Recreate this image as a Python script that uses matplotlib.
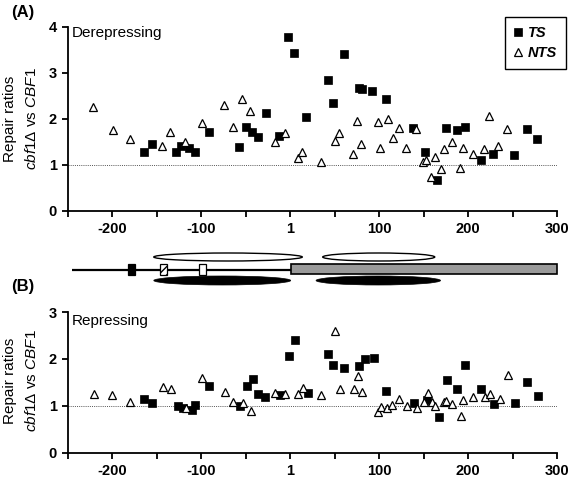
import matplotlib
matplotlib.use("Agg")
import matplotlib.pyplot as plt
from matplotlib.patches import Ellipse, Rectangle

plt.rcParams['font.family'] = ['Liberation Sans', 'DejaVu Sans']
plt.rcParams['mathtext.fontset'] = 'custom'
plt.rcParams['mathtext.it'] = 'Liberation Sans:italic'
plt.rcParams['mathtext.rm'] = 'Liberation Sans'

# Panel A (derepressing) - TS
ts_a_x = [-165, -156, -129, -123, -114, -107, -91, -58, -50, -43, -36, -27, -13, -3, 4, 18,
          42, 48, 60, 77, 81, 92, 108, 138, 152, 165, 175, 188, 197, 214, 228, 252, 266, 278]
ts_a_y = [1.28, 1.46, 1.28, 1.42, 1.36, 1.28, 1.72, 1.40, 1.82, 1.72, 1.61, 2.13, 1.63, 3.78,
          3.44, 2.04, 2.84, 2.35, 3.41, 2.68, 2.65, 2.60, 2.44, 1.80, 1.28, 0.67, 1.80, 1.76,
          1.83, 1.10, 1.24, 1.21, 1.78, 1.57]
# Panel A - NTS
nts_a_x = [-222, -199, -180, -144, -135, -118, -99, -74, -64, -54, -45, -17, -6, 9, 13, 34,
           50, 55, 71, 75, 79, 99, 101, 110, 115, 122, 130, 141, 149, 153, 158, 163, 170,
           173, 182, 191, 194, 205, 218, 224, 234, 244]
nts_a_y = [2.25, 1.75, 1.56, 1.42, 1.72, 1.49, 1.91, 2.30, 1.83, 2.43, 2.17, 1.51, 1.70, 1.16,
           1.29, 1.07, 1.53, 1.69, 1.25, 1.95, 1.45, 1.94, 1.38, 2.00, 1.58, 1.80, 1.36, 1.79,
           1.06, 1.10, 0.75, 1.18, 0.91, 1.34, 1.51, 0.94, 1.38, 1.25, 1.35, 2.07, 1.42, 1.79]

# Panel B (repressing) - TS
ts_b_x = [-165, -156, -126, -121, -111, -107, -91, -56, -49, -42, -36, -28, -11, -1, 5, 20,
          42, 48, 60, 77, 84, 94, 108, 139, 154, 167, 176, 188, 197, 215, 229, 253, 266, 279]
ts_b_y = [1.14, 1.06, 1.00, 0.96, 0.91, 1.01, 1.43, 1.00, 1.43, 1.58, 1.26, 1.19, 1.23, 2.07,
          2.40, 1.28, 2.10, 1.87, 1.80, 1.85, 2.00, 2.02, 1.32, 1.07, 1.12, 0.77, 1.54, 1.36,
          1.87, 1.36, 1.04, 1.07, 1.51, 1.21]
# Panel B - NTS
nts_b_x = [-221, -200, -180, -143, -134, -117, -99, -73, -64, -53, -44, -17, -6, 9, 14, 34,
           50, 56, 72, 76, 81, 99, 102, 109, 114, 122, 131, 142, 150, 155, 159, 163, 173,
           175, 182, 192, 194, 206, 219, 225, 236, 245]
nts_b_y = [1.26, 1.22, 1.08, 1.40, 1.36, 0.96, 1.60, 1.29, 1.09, 1.05, 0.89, 1.27, 1.26, 1.25,
           1.39, 1.24, 2.60, 1.35, 1.35, 1.63, 1.29, 0.86, 0.97, 0.95, 1.01, 1.15, 1.00, 0.96,
           1.09, 1.28, 1.08, 1.00, 1.08, 1.11, 1.04, 0.79, 1.12, 1.19, 1.19, 1.26, 1.14, 1.66]

x_ticks = [-250, -200, -150, -100, -50, 0, 50, 100, 150, 200, 250, 300]
x_ticklabels = ['', '-200', '', '-100', '', '1', '', '100', '', '200', '', '300']

# gene diagram (positions along the same coordinate)
promoter_line = (-246, 1)
gene_box = (1, 300)
sites = [(-179, 'black', ''), (-142.5, 'white', '////'), (-99, 'white', '')]
open_ellipses = [(-70, 167), (99.5, 126)]   # (center, width)
filled_ellipses = [(-76.5, 154), (99, 140)]

W, H = 572, 480
fig = plt.figure(figsize=(W / 100, H / 100), dpi=100)
axA = fig.add_axes([68 / W, 1 - 211 / H, 489 / W, 184 / H])
axB = fig.add_axes([68 / W, 1 - 452.7 / H, 489 / W, 140.7 / H])
axG = fig.add_axes([68 / W, 1 - 290 / H, 489 / W, 40 / H])


def style(ax, ymax):
    ax.set_xlim(-250, 300)
    ax.set_ylim(0, ymax)
    ax.axhline(1, color='#555555', ls=(0, (1, 1.2)), lw=0.7, zorder=1)
    for s in ['top', 'right']:
        ax.spines[s].set_visible(False)
    for s in ['left', 'bottom']:
        ax.spines[s].set_linewidth(1.3)
    ax.set_xticks(x_ticks)
    ax.set_xticklabels(x_ticklabels)
    ax.set_yticks(range(0, ymax + 1))
    ax.tick_params(direction='out', length=4, width=1.3, labelsize=10.5, pad=4)
    for lab in ax.get_xticklabels() + ax.get_yticklabels():
        lab.set_fontweight('bold')


for ax, tx, ty, nx, ny, ymax in [(axA, ts_a_x, ts_a_y, nts_a_x, nts_a_y, 4),
                                 (axB, ts_b_x, ts_b_y, nts_b_x, nts_b_y, 3)]:
    style(ax, ymax)
    ax.plot(tx, ty, 's', color='black', ms=5.4, mew=0.5, label='TS', zorder=3)
    ax.plot(nx, ny, '^', mfc='white', mec='black', ms=6.2, mew=0.9, label='NTS', zorder=3)

leg = axA.legend(loc='upper right', bbox_to_anchor=(566 / W, 1 - 17 / H),
                 bbox_transform=fig.transFigure, borderaxespad=0, fancybox=False,
                 edgecolor='black', framealpha=1, handlelength=0.6, handletextpad=0.4,
                 borderpad=0.6, labelspacing=0.45, prop={'weight': 'bold', 'style': 'italic',
                                                         'size': 10.5})
leg.get_frame().set_linewidth(1.0)

axA.text(0.008, 0.965, 'Derepressing', transform=axA.transAxes, ha='left', va='center',
         fontsize=11)
axB.text(0.008, 0.935, 'Repressing', transform=axB.transAxes, ha='left', va='center',
         fontsize=11)

fig.text(11 / W, 1 - 12 / H, '(A)', ha='left', va='center', fontsize=12, fontweight='bold')
fig.text(11 / W, 1 - 287 / H, '(B)', ha='left', va='center', fontsize=12, fontweight='bold')

for yc in [119, 381]:
    fig.text(10 / W, 1 - yc / H, 'Repair ratios', rotation=90, ha='center', va='center',
             fontsize=11)
    fig.text(32 / W, 1 - yc / H, r'$\mathit{cbf1Δ}$ vs $\mathit{CBF1}$', rotation=90,
             ha='center', va='center', fontsize=11)

# gene diagram
axG.set_xlim(-250, 300)
axG.set_ylim(0, 40)
axG.axis('off')
axG.plot(promoter_line, [20.5, 20.5], color='black', lw=1.6, solid_capstyle='butt')
axG.add_patch(Rectangle((gene_box[0], 16), gene_box[1] - gene_box[0], 10, facecolor='#9a9a9a',
                        edgecolor='black', lw=1.2, clip_on=False))
for xc, fc, hatch in sites:
    axG.add_patch(Rectangle((xc - 3.8, 15.5), 7.6, 10.5, facecolor=fc, edgecolor='black',
                            lw=0.9, hatch=hatch, zorder=3))
for xc, w in open_ellipses:
    axG.add_patch(Ellipse((xc, 33), w, 8, facecolor='white', edgecolor='black', lw=1.0))
for xc, w in filled_ellipses:
    axG.add_patch(Ellipse((xc, 9.5), w, 9, facecolor='black', edgecolor='black', lw=0.5))

fig.savefig('out.png', dpi=100)
